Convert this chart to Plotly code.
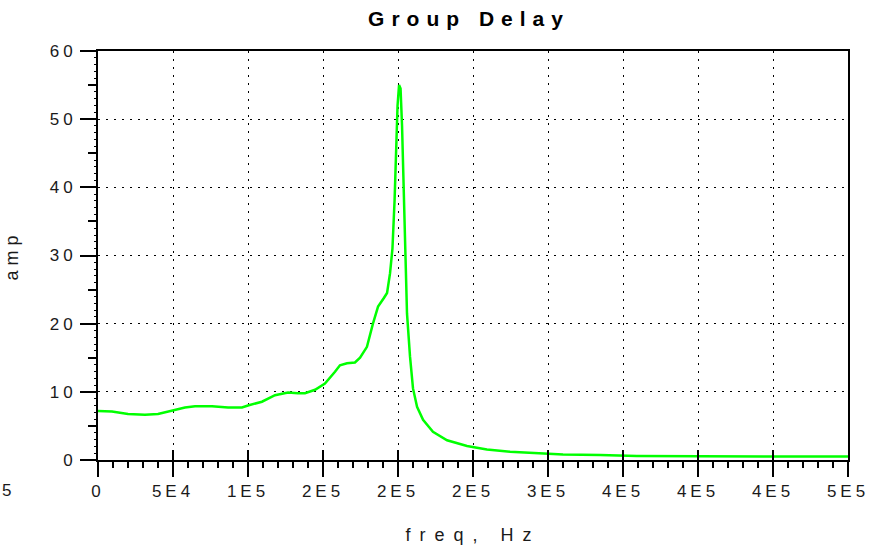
import plotly.graph_objects as go

# Group delay measurement: frequency (Hz) vs delay amplitude
freq_hz = [
    0, 9300, 20000, 31300, 40000, 49300, 58000, 64700, 76000, 86700,
    96000, 100000, 109300, 118000, 126700, 133300, 138000, 144700, 151300, 158000,
    161300, 166000, 171300, 174700, 179300, 183300, 186700, 190700, 192700, 194700,
    196300, 197700, 198700, 199700, 200700, 201700, 202700, 203700, 204700, 206000,
    208000, 210000, 212700, 216700, 223300, 232700, 246000, 259300, 274700, 290000,
    310000, 334700, 359300, 401300, 454700, 500000,
]
amp = [
    7.2, 7.1, 6.75, 6.65, 6.75, 7.2, 7.7, 7.9, 7.9, 7.7,
    7.7, 8.0, 8.55, 9.5, 9.9, 9.8, 9.8, 10.3, 11.2, 12.95,
    13.9, 14.2, 14.3, 15.0, 16.6, 20.0, 22.5, 23.8, 24.5, 27.4,
    31.0, 38.0, 46.0, 52.0, 55.0, 54.5, 49.0, 40.0, 31.0, 21.5,
    15.2, 10.5, 7.8, 5.9, 4.15, 2.9, 2.05, 1.55, 1.2, 1.0,
    0.8, 0.72, 0.6, 0.55, 0.5, 0.5,
]

x_tick_values = [0, 50000, 100000, 150000, 200000, 250000, 300000, 350000, 400000, 450000, 500000]
x_tick_labels = ["0", "5E4", "1E5", "2E5", "2E5", "2E5", "3E5", "4E5", "4E5", "4E5", "5E5"]
y_tick_values = [0, 10, 20, 30, 40, 50, 60]
y_tick_labels = ["0", "10", "20", "30", "40", "50", "60"]
y_mid_ticks = [5, 15, 25, 35, 45, 55]

TITLE = "Group Delay"
X_TITLE = "freq, Hz"
Y_TITLE = "amp"

FONT = "Liberation Sans"
TEXT_COLOR = "#1a1a1a"


def spaced(text, px):
    return f'<span style="letter-spacing:{px}px">{text}</span>'


fig = go.Figure()

fig.add_trace(go.Scatter(
    x=freq_hz, y=amp, mode="lines",
    line=dict(color="#00ff00", width=2.5),
    xaxis="x", yaxis="y", showlegend=False, hoverinfo="x+y",
))

# transparent copy that carries the secondary tick axes
fig.add_trace(go.Scatter(
    x=freq_hz, y=amp, mode="lines", opacity=0,
    line=dict(width=0), xaxis="x2", yaxis="y2",
    showlegend=False, hoverinfo="skip",
))

grid = dict(showgrid=True, gridcolor="black", gridwidth=1, griddash="2px,6px")

fig.update_layout(
    width=873, height=551,
    margin=dict(l=98, r=25, t=51, b=91, autoexpand=False),
    paper_bgcolor="white", plot_bgcolor="white",
    font=dict(family=FONT, size=17, color=TEXT_COLOR),
    title=dict(
        text=spaced(TITLE, 7),
        font=dict(family=FONT, size=21, color="black", weight="bold"),
        x=469 / 873, xanchor="center", xref="container",
        y=1 - 19 / 551, yanchor="middle", yref="container",
    ),
    xaxis=dict(
        range=[0, 500000], autorange=False,
        tickmode="array", tickvals=x_tick_values,
        ticktext=[spaced(t, 4) for t in x_tick_labels],
        ticks="outside", ticklen=15, tickwidth=2, tickcolor="black",
        minor=dict(dtick=10000, tick0=0, ticks="outside", ticklen=6,
                   tickwidth=2, tickcolor="black", showgrid=False),
        showline=True, linecolor="black", linewidth=2, mirror=True,
        zeroline=False, automargin=False,
        title=dict(text=spaced(X_TITLE, 9), font=dict(size=18), standoff=28),
        **grid,
    ),
    yaxis=dict(
        range=[0, 60], autorange=False,
        tickmode="array", tickvals=y_tick_values,
        ticktext=[spaced(t, 4) for t in y_tick_labels],
        ticks="outside", ticklen=16, tickwidth=2, tickcolor="black",
        minor=dict(dtick=1, tick0=0, ticks="outside", ticklen=2,
                   tickwidth=1, tickcolor="black", showgrid=False),
        showline=True, linecolor="black", linewidth=2, mirror=True,
        zeroline=False, automargin=False,
        title=dict(text=spaced(Y_TITLE, 5), font=dict(size=18), standoff=26),
        **grid,
    ),
    # major x ticks also cross into the plot area; half-way ticks on y
    xaxis2=dict(
        overlaying="x", anchor="y2", side="bottom", matches="x",
        range=[0, 500000], autorange=False,
        tickmode="array", tickvals=x_tick_values, showticklabels=False,
        ticks="inside", ticklen=10, tickwidth=2, tickcolor="black",
        showgrid=False, showline=False, zeroline=False,
    ),
    yaxis2=dict(
        overlaying="y", anchor="x2", side="left", matches="y",
        range=[0, 60], autorange=False,
        tickmode="array", tickvals=y_mid_ticks, showticklabels=False,
        ticks="outside", ticklen=9, tickwidth=2, tickcolor="black",
        showgrid=False, showline=False, zeroline=False,
    ),
    annotations=[dict(
        text="5", xref="paper", yref="paper",
        x=-85 / 750, y=-30 / 409, xanchor="right", yanchor="middle",
        showarrow=False, font=dict(size=17, color=TEXT_COLOR),
    )],
)

fig.write_html("out.html")
